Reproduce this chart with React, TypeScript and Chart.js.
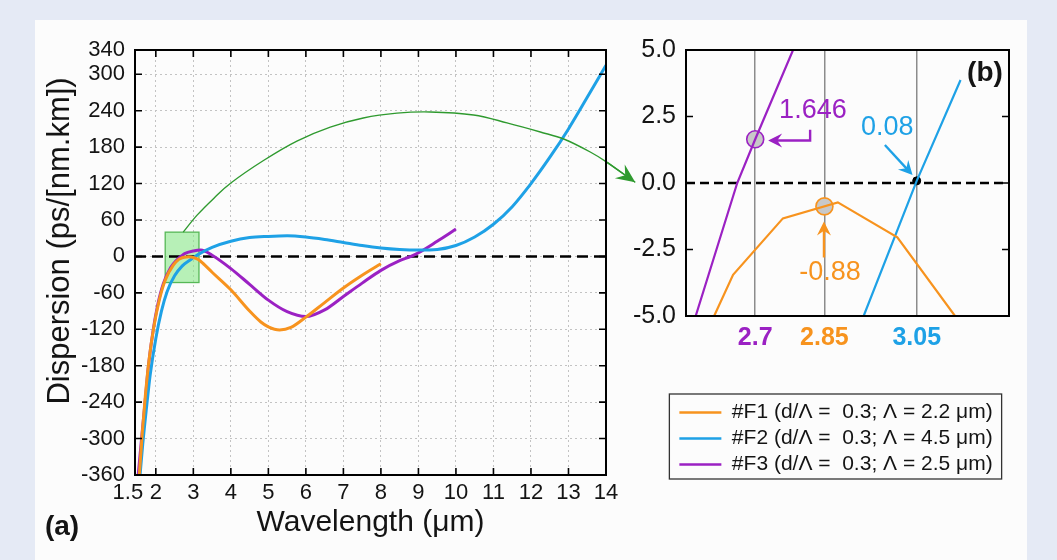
import React, { useEffect, useRef } from 'react';
import { Chart, registerables } from 'chart.js';

Chart.register(...registerables);

const FONT = "'Liberation Sans', Arial, Helvetica, sans-serif";
const ORANGE = '#f7931e';
const BLUE = '#1ea1e6';
const PURPLE = '#9b21c3';
const GREEN = '#2f9a2f';
const TEXT = '#141414';

// ---------- panel (a): dispersion vs wavelength ----------
const f1Wavelength = [1.56, 1.64, 1.72, 1.82, 1.95, 2.1, 2.25, 2.47, 2.611, 2.652, 2.76, 2.879, 3.008, 3.133, 3.3, 3.5, 4.0, 4.5, 4.8, 5.0, 5.3, 5.6, 6.0, 6.5, 7.0, 7.5, 8.0];
const f1Dispersion = [-360, -290, -230, -170, -115, -70, -39, -14, -5, -3.45, -1.33, -0.73, -2.04, -5, -14, -26, -55, -90, -108, -116, -121, -117, -100, -76, -52, -31, -12];

const f2Wavelength = [1.58, 1.65, 1.75, 1.85, 2.0, 2.15, 2.3, 2.5, 2.7, 2.935, 3.05, 3.145, 3.5, 4.0, 4.5, 5.0, 5.5, 6.0, 6.5, 7.0, 7.5, 8.0, 8.5, 9.0, 9.5, 10.0, 10.5, 11.0, 11.5, 12.0, 12.5, 13.0, 13.5, 14.0];
const f2Dispersion = [-360, -310, -250, -195, -135, -90, -58, -32, -16, -5, 0.08, 3.87, 15, 25, 31, 33, 34, 32, 28, 23, 18, 14, 11.5, 10.5, 11.5, 18, 32, 53, 82, 120, 163, 210, 262, 315];

const f3Wavelength = [1.53, 1.62, 1.71, 1.8, 1.93, 2.05, 2.2, 2.4, 2.571, 2.661, 2.7, 2.782, 3.0, 3.2, 3.5, 4.0, 4.5, 5.0, 5.5, 6.0, 6.5, 7.0, 7.5, 8.0, 8.5, 8.8, 9.0, 9.5, 10.0];
const f3Dispersion = [-360, -300, -242, -182, -121, -80, -45, -18, -5, 0, 1.646, 5, 9, 10.5, 2, -20, -46, -72, -91, -99, -88, -66, -44, -23, -7, 0, 6, 25, 45];

const mainXTicks = [1.5, 2, 3, 4, 5, 6, 7, 8, 9, 10, 11, 12, 13, 14];
const mainYTicks = [340, 300, 240, 180, 120, 60, 0, -60, -120, -180, -240, -300, -360];

// zoom window and the curved arrow pointing to panel (b)
const zoomBoxWavelength = [2.25, 3.15];
const zoomBoxDispersion = [-43, 40];
const arrowWavelength = [2.73, 3.1, 3.55, 4.0, 4.87, 5.76, 6.65, 7.53, 8.43, 9.31, 10.47, 11.36, 12.25, 12.89, 13.58, 14.03, 14.78];
const arrowDispersion = [40, 68, 96, 121, 158, 190, 213, 228, 236, 238, 233, 220, 205, 193, 172, 155, 122];

// ---------- panel (b): zoom around the zero-dispersion points ----------
const insetF1Wavelength = [2.611, 2.652, 2.76, 2.879, 3.008, 3.133];
const insetF1Dispersion = [-5, -3.45, -1.33, -0.73, -2.04, -5];
const insetF2Wavelength = [2.935, 3.05, 3.145];
const insetF2Dispersion = [-5, 0.08, 3.87];
const insetF3Wavelength = [2.571, 2.661, 2.7, 2.782];
const insetF3Dispersion = [-5, 0, 1.646, 5];

const insetXTicks = [2.7, 2.85, 3.05];
const insetXTickColors = [PURPLE, ORANGE, BLUE];
const insetYTicks = [5, 2.5, 0, -2.5, -5];

const markerWavelength = [2.7, 2.85];
const markerDispersion = [1.646, -0.88];
const markerColors = [PURPLE, ORANGE];
const crossingWavelength = [3.05];
const crossingDispersion = [0.08];

const legendLabels = [
  '#F1 (d/Λ =  0.3; Λ = 2.2 μm)',
  '#F2 (d/Λ =  0.3; Λ = 4.5 μm)',
  '#F3 (d/Λ =  0.3; Λ = 2.5 μm)',
];

// annotation anchors in data units of panel (b)
const insetNotes = [
  { text: String(markerDispersion[0]), color: PURPLE, at: [2.825, 2.74], arrow: [[2.819, 2.0], [2.819, 1.6], [2.728, 1.6]] },
  { text: String(crossingDispersion[0]), color: BLUE, at: [2.986, 2.07], arrow: [[2.981, 1.43], [3.041, 0.3]] },
  { text: String(markerDispersion[1]), color: ORANGE, at: [2.862, -3.38], arrow: [[2.849, -2.8], [2.849, -1.45]] },
];

const toXY = (xs: number[], ys: number[]) => xs.map((x, i) => ({ x, y: ys[i] }));

function drawArrowPath(ctx: CanvasRenderingContext2D, pts: number[][], color: string, width: number, headLen: number, headW: number) {
  ctx.save();
  ctx.setLineDash([]);
  ctx.strokeStyle = color;
  ctx.fillStyle = color;
  ctx.lineWidth = width;
  const n = pts.length;
  const [tx, ty] = pts[n - 1];
  const [px, py] = pts[n - 2];
  const a = Math.atan2(ty - py, tx - px);
  const c = Math.cos(a);
  const s = Math.sin(a);
  ctx.beginPath();
  ctx.moveTo(pts[0][0], pts[0][1]);
  for (let i = 1; i < n - 1; i++) ctx.lineTo(pts[i][0], pts[i][1]);
  ctx.lineTo(tx - c * headLen * 0.6, ty - s * headLen * 0.6);
  ctx.stroke();
  ctx.beginPath();
  ctx.moveTo(tx, ty);
  ctx.lineTo(tx - c * headLen + s * headW, ty - s * headLen - c * headW);
  ctx.lineTo(tx - c * headLen * 0.65, ty - s * headLen * 0.65);
  ctx.lineTo(tx - c * headLen - s * headW, ty - s * headLen + c * headW);
  ctx.closePath();
  ctx.fill();
  ctx.restore();
}

function drawFrameAndTicks(chart: any, xTicks: number[], yTicks: number[], len: number) {
  const { ctx, chartArea: a, scales } = chart;
  ctx.save();
  ctx.setLineDash([]);
  ctx.strokeStyle = '#000';
  ctx.lineWidth = 1.6;
  ctx.beginPath();
  xTicks.forEach((v) => {
    const x = scales.x.getPixelForValue(v);
    ctx.moveTo(x, a.top);
    ctx.lineTo(x, a.top + len);
    ctx.moveTo(x, a.bottom);
    ctx.lineTo(x, a.bottom - len);
  });
  yTicks.forEach((v) => {
    const y = scales.y.getPixelForValue(v);
    ctx.moveTo(a.left, y);
    ctx.lineTo(a.left + len, y);
    ctx.moveTo(a.right, y);
    ctx.lineTo(a.right - len, y);
  });
  ctx.stroke();
  ctx.lineWidth = 2;
  ctx.strokeRect(a.left, a.top, a.right - a.left, a.bottom - a.top);
  ctx.restore();
}

function drawZeroLine(chart: any, dash: number[]) {
  const { ctx, chartArea: a, scales } = chart;
  const y = scales.y.getPixelForValue(0);
  ctx.save();
  ctx.strokeStyle = '#000';
  ctx.lineWidth = 2.5;
  ctx.setLineDash(dash);
  ctx.beginPath();
  ctx.moveTo(a.left, y);
  ctx.lineTo(a.right, y);
  ctx.stroke();
  ctx.restore();
}

const mainDecor = {
  id: 'mainDecor',
  beforeDatasetsDraw(chart: any) {
    const { ctx, scales } = chart;
    const x0 = scales.x.getPixelForValue(zoomBoxWavelength[0]);
    const x1 = scales.x.getPixelForValue(zoomBoxWavelength[1]);
    const y0 = scales.y.getPixelForValue(zoomBoxDispersion[1]);
    const y1 = scales.y.getPixelForValue(zoomBoxDispersion[0]);
    ctx.save();
    ctx.fillStyle = 'rgba(140, 232, 140, 0.62)';
    ctx.fillRect(x0, y0, x1 - x0, y1 - y0);
    ctx.strokeStyle = '#56b856';
    ctx.lineWidth = 1.3;
    ctx.strokeRect(x0, y0, x1 - x0, y1 - y0);
    ctx.restore();
    drawZeroLine(chart, [11, 6]);
  },
  afterDatasetsDraw(chart: any) {
    const { ctx, scales } = chart;
    const pts = arrowWavelength.map((w, i) => [scales.x.getPixelForValue(w), scales.y.getPixelForValue(arrowDispersion[i])]);
    ctx.save();
    ctx.strokeStyle = GREEN;
    ctx.lineWidth = 1.4;
    ctx.beginPath();
    ctx.moveTo(pts[0][0], pts[0][1]);
    for (let i = 0; i < pts.length - 1; i++) {
      const p0 = pts[Math.max(i - 1, 0)];
      const p1 = pts[i];
      const p2 = pts[i + 1];
      const p3 = pts[Math.min(i + 2, pts.length - 1)];
      ctx.bezierCurveTo(
        p1[0] + (p2[0] - p0[0]) / 6, p1[1] + (p2[1] - p0[1]) / 6,
        p2[0] - (p3[0] - p1[0]) / 6, p2[1] - (p3[1] - p1[1]) / 6,
        p2[0], p2[1]
      );
    }
    ctx.stroke();
    ctx.restore();
    const n = pts.length;
    drawArrowPath(ctx, [pts[n - 2], pts[n - 1]], GREEN, 1.4, 19, 8.5);
    drawFrameAndTicks(chart, mainXTicks.slice(1, -1), mainYTicks.slice(1, -1), 7);
    ctx.save();
    ctx.fillStyle = TEXT;
    ctx.font = `bold 28px ${FONT}`;
    ctx.textAlign = 'center';
    ctx.textBaseline = 'middle';
    ctx.fillText('(a)', 27, 507);
    ctx.restore();
  },
};

const insetDecor = {
  id: 'insetDecor',
  beforeDatasetsDraw(chart: any) {
    drawZeroLine(chart, [9, 5]);
  },
  afterDatasetsDraw(chart: any) {
    const { ctx, scales, chartArea: a } = chart;
    const px = (v: number[]) => [scales.x.getPixelForValue(v[0]), scales.y.getPixelForValue(v[1])];
    insetNotes.forEach((n) => {
      drawArrowPath(ctx, n.arrow.map(px), n.color, 2.4, 14, 7);
      const [tx, ty] = px(n.at);
      ctx.save();
      ctx.fillStyle = n.color;
      ctx.font = `27px ${FONT}`;
      ctx.textAlign = 'center';
      ctx.textBaseline = 'middle';
      ctx.fillText(n.text, tx, ty);
      ctx.restore();
    });
    drawFrameAndTicks(chart, [], insetYTicks.slice(1, -1), 7);
    ctx.save();
    ctx.fillStyle = TEXT;
    ctx.font = `bold 28px ${FONT}`;
    ctx.textAlign = 'center';
    ctx.textBaseline = 'middle';
    ctx.fillText('(b)', a.right - 24, a.top + 23);
    ctx.restore();
  },
  afterDraw(chart: any) {
    const boxes = chart.legend && chart.legend.legendHitBoxes;
    if (!boxes || !boxes.length) return;
    const l = Math.min(...boxes.map((b: any) => b.left)) - 10;
    const r = Math.max(...boxes.map((b: any) => b.left + b.width)) + 9;
    const t = Math.min(...boxes.map((b: any) => b.top)) - 8;
    const btm = Math.max(...boxes.map((b: any) => b.top + b.height)) + 4;
    const { ctx } = chart;
    ctx.save();
    ctx.strokeStyle = '#333';
    ctx.lineWidth = 1.3;
    ctx.strokeRect(l, t, r - l, btm - t);
    ctx.restore();
  },
};

const edgeGrid = (edges: number[]) => (c: any) =>
  c.tick && edges.includes(c.tick.value) ? 'rgba(0,0,0,0)' : '#c3c3c3';

function mainConfig(): any {
  const line = { borderWidth: 3, pointRadius: 0, fill: false, cubicInterpolationMode: 'monotone' };
  return {
    type: 'line',
    data: {
      datasets: [
        { label: legendLabels[0], data: toXY(f1Wavelength, f1Dispersion), borderColor: ORANGE, backgroundColor: ORANGE, ...line },
        { label: legendLabels[1], data: toXY(f2Wavelength, f2Dispersion), borderColor: BLUE, backgroundColor: BLUE, ...line },
        { label: legendLabels[2], data: toXY(f3Wavelength, f3Dispersion), borderColor: PURPLE, backgroundColor: PURPLE, ...line },
      ],
    },
    options: {
      responsive: false,
      animation: false,
      events: [],
      layout: { padding: { left: 3, right: 39, top: 30, bottom: 15 } },
      plugins: { legend: { display: false }, tooltip: { enabled: false } },
      scales: {
        x: {
          type: 'linear',
          min: 1.445,
          max: 14,
          afterBuildTicks: (s: any) => { s.ticks = mainXTicks.map((v) => ({ value: v })); },
          afterFit: (s: any) => { s.height = 70; },
          ticks: {
            autoSkip: false,
            maxRotation: 0,
            padding: 5,
            color: TEXT,
            font: { family: FONT, size: 22 },
            callback: (v: any) => (v === 1.5 ? '1.5   ' : String(v)),
          },
          grid: { color: edgeGrid([1.5, 14]), lineWidth: 1, drawTicks: false },
          border: { display: false, dash: [2, 3] },
          title: { display: true, text: 'Wavelength (μm)', color: TEXT, font: { family: FONT, size: 30 }, padding: { top: 0, bottom: 4 } },
        },
        y: {
          type: 'linear',
          min: -360,
          max: 340,
          afterBuildTicks: (s: any) => { s.ticks = mainYTicks.map((v) => ({ value: v })); },
          afterFit: (s: any) => { s.width = 97; },
          ticks: { autoSkip: false, padding: 10, color: TEXT, font: { family: FONT, size: 22 }, callback: (v: any) => String(v) },
          grid: { color: edgeGrid([340, -360]), lineWidth: 1, drawTicks: false },
          border: { display: false, dash: [2, 3] },
          title: { display: true, text: '     Dispersion (ps/[nm.km])', color: TEXT, font: { family: FONT, size: 31 }, padding: { top: 4, bottom: 0 } },
        },
      },
    },
    plugins: [mainDecor],
  };
}

function insetConfig(): any {
  const line = { borderWidth: 2.2, pointRadius: 0, fill: false, tension: 0 };
  return {
    type: 'line',
    data: {
      datasets: [
        { label: legendLabels[0], data: toXY(insetF1Wavelength, insetF1Dispersion), borderColor: ORANGE, backgroundColor: ORANGE, ...line },
        { label: legendLabels[1], data: toXY(insetF2Wavelength, insetF2Dispersion), borderColor: BLUE, backgroundColor: BLUE, ...line },
        { label: legendLabels[2], data: toXY(insetF3Wavelength, insetF3Dispersion), borderColor: PURPLE, backgroundColor: PURPLE, ...line },
        {
          label: 'markers',
          data: toXY(markerWavelength, markerDispersion),
          showLine: false,
          pointRadius: 8.5,
          pointBackgroundColor: '#c8c8c8',
          pointBorderColor: markerColors,
          pointBorderWidth: 1.6,
        },
        {
          label: 'crossing',
          data: toXY(crossingWavelength, crossingDispersion),
          showLine: false,
          pointRadius: 4,
          pointBackgroundColor: '#000',
          pointBorderColor: '#000',
          pointBorderWidth: 1,
        },
      ],
    },
    options: {
      responsive: false,
      animation: false,
      events: [],
      layout: { padding: { left: 20, right: 5, top: 30, bottom: 75 } },
      plugins: {
        tooltip: { enabled: false },
        legend: {
          display: true,
          position: 'bottom',
          align: 'center',
          labels: {
            boxWidth: 42,
            boxHeight: 2.5,
            padding: 5,
            color: TEXT,
            font: { family: FONT, size: 21 },
            generateLabels: (chart: any) =>
              Chart.defaults.plugins.legend.labels
                .generateLabels(chart)
                .filter((it: any) => it.datasetIndex < 3)
                .map((it: any) => ({ ...it, lineWidth: 0 })),
          },
        },
      },
      scales: {
        x: {
          type: 'linear',
          min: 2.55,
          max: 3.25,
          afterBuildTicks: (s: any) => { s.ticks = insetXTicks.map((v) => ({ value: v })); },
          afterFit: (s: any) => { s.height = 81; },
          ticks: {
            autoSkip: false,
            maxRotation: 0,
            padding: 7,
            color: (c: any) => insetXTickColors[c.index] || TEXT,
            font: { family: FONT, size: 25, weight: 'bold' },
            callback: (v: any) => String(v),
          },
          grid: { color: '#8c8c8c', lineWidth: 1.5, drawTicks: false },
          border: { display: false },
        },
        y: {
          type: 'linear',
          min: -5,
          max: 5,
          afterBuildTicks: (s: any) => { s.ticks = insetYTicks.map((v) => ({ value: v })); },
          afterFit: (s: any) => { s.width = 66; },
          ticks: { autoSkip: false, padding: 10, color: TEXT, font: { family: FONT, size: 25 }, callback: (v: any) => Number(v).toFixed(1) },
          grid: { display: false, drawTicks: false },
          border: { display: false },
        },
        yRight: {
          type: 'linear',
          position: 'right',
          min: -5,
          max: 5,
          afterFit: (s: any) => { s.width = 43; },
          ticks: { display: false },
          grid: { display: false, drawTicks: false },
          border: { display: false },
        },
      },
    },
    plugins: [insetDecor],
  };
}

export default function App() {
  const mainRef = useRef<HTMLCanvasElement>(null);
  const insetRef = useRef<HTMLCanvasElement>(null);
  useEffect(() => {
    const c1 = new Chart(mainRef.current as HTMLCanvasElement, mainConfig());
    const c2 = new Chart(insetRef.current as HTMLCanvasElement, insetConfig());
    return () => {
      c1.destroy();
      c2.destroy();
    };
  }, []);
  return (
    <div style={{ position: 'fixed', left: 0, top: 0, width: 1057, height: 560, background: '#e5eaf5', overflow: 'hidden' }}>
      <div style={{ position: 'absolute', left: 35, top: 20, width: 992, height: 540, background: '#fcfcfc' }} />
      <div style={{ position: 'absolute', left: 35, top: 20, width: 610, height: 540 }}>
        <canvas ref={mainRef} width={610} height={540} />
      </div>
      <div style={{ position: 'absolute', left: 600, top: 20, width: 457, height: 540 }}>
        <canvas ref={insetRef} width={457} height={540} />
      </div>
    </div>
  );
}
